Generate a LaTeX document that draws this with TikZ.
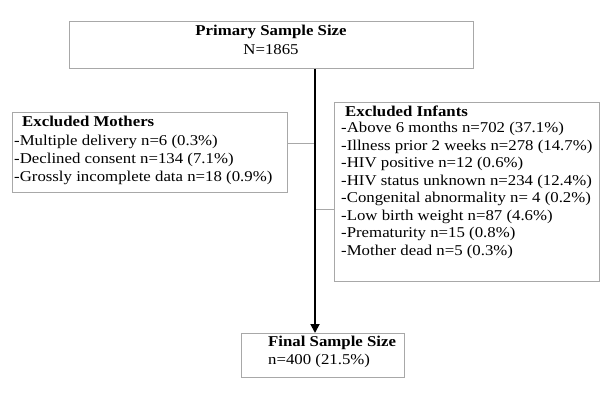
\documentclass[tikz,border=0pt]{standalone}
\usepackage{fontspec}
\setmainfont{Liberation Serif}[FakeStretch=1.12]
\usetikzlibrary{arrows.meta,positioning}
\definecolor{boxgray}{HTML}{A8A8A8}
\tikzset{
  frame/.style={draw=boxgray,line width=0.9pt,inner sep=0pt,anchor=north west},
  link/.style={draw=boxgray,line width=0.9pt},
  flow/.style={draw=black,line width=1.8pt,-{Triangle[length=9pt,width=9pt]}},
  txt/.style={inner sep=0pt,anchor=west},
}
\begin{document}
\fontsize{15}{17.6}\selectfont
\begin{tikzpicture}[x=1pt,y=-1pt]
  \useasboundingbox (0,0) rectangle (611,396);
  \node[frame,minimum width=404,minimum height=47] (prim) at (69,21) {};
  \node[frame,minimum width=275,minimum height=80] (moth) at (12,112) {};
  \node[frame,minimum width=265,minimum height=179] (inf) at (334,102) {};
  \node[frame,minimum width=163,minimum height=44] (fin) at (241,333) {};
  \node[inner sep=0pt,font=\bfseries] (primhead) at (271,32) {Primary Sample Size};
  \node[inner sep=0pt] (primn) at (271,50) {N=1865};
  \node[txt,font=\bfseries] (mothhead) at (22,121) {Excluded Mothers};
  \foreach \i/\y/\lab in {1/142/{-Multiple delivery n=6 (0.3\%)},
                         2/160/{-Declined consent n=134 (7.1\%)},
                         3/178/{-Grossly incomplete data n=18 (0.9\%)}}
    \node[txt] (mrow\i) at (14,\y) {\lab};
  \node[txt,font=\bfseries] (infhead) at (345,111) {Excluded Infants};
  \foreach \i/\lab in {0/{-Above 6 months n=702 (37.1\%)},
                       1/{-Illness prior 2 weeks n=278 (14.7\%)},
                       2/{-HIV positive n=12 (0.6\%)},
                       3/{-HIV status unknown n=234 (12.4\%)},
                       4/{-Congenital abnormality n= 4 (0.2\%)},
                       5/{-Low birth weight n=87 (4.6\%)},
                       6/{-Prematurity n=15 (0.8\%)},
                       7/{-Mother dead n=5 (0.3\%)}}
    \node[txt] (irow\i) at (341,129+17.55*\i) {\lab};
  \node[txt,font=\bfseries] (finhead) at (268,343) {Final Sample Size};
  \node[txt] (finn) at (268,361) {n=400 (21.5\%)};
  \coordinate (spine) at (315,0);
  \coordinate (ijoin) at (315,209);
  \draw[link] (moth.east |- 0,143) -- (spine |- 0,143);
  \draw[link] (ijoin) -- (ijoin -| inf.west);
  \draw[flow] (prim.south -| spine) -- (fin.north -| spine);
\end{tikzpicture}
\end{document}
